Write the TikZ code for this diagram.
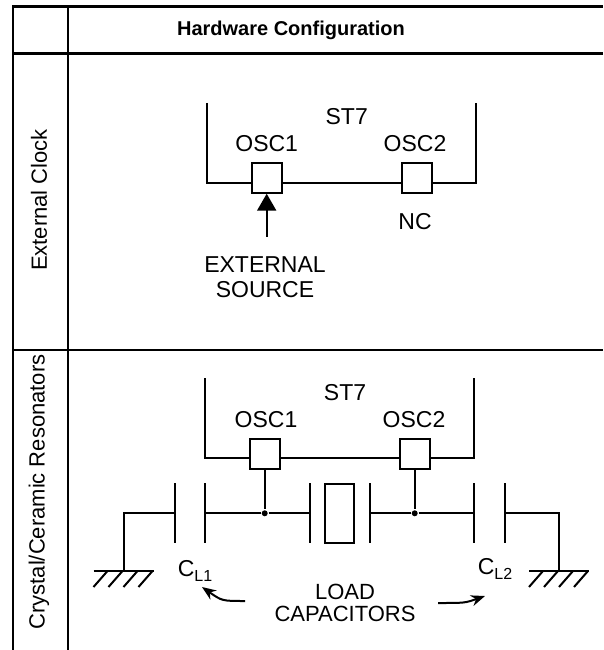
\documentclass[tikz,border=0pt]{standalone}
\usepackage{fontspec}
\setmainfont{Liberation Sans}
\usetikzlibrary{arrows.meta}
\tikzset{
	pin/.style={draw, fill=white, minimum width=30pt, minimum height=30pt, inner sep=0pt},
	dot/.style={circle, fill, inner sep=0pt, minimum size=6pt},
	grid/.style={line width=2.5pt},
	earth/.pic={
		\draw (-30,0) -- (30,0);
		\foreach \hx in {-16,-1,14,29}
			\draw (\hx,0) -- (\hx-14,16);
	}
}
\newcommand{\subL}[1]{\raisebox{-0.4ex}{\fontsize{16}{16}\selectfont #1}}
\begin{document}
\begin{tikzpicture}[x=1pt,y=-1pt,line width=2pt,font=\fontsize{23}{25}\selectfont]
	\useasboundingbox (0,0) rectangle (603,650);
	\draw[grid] (13,650) -- (13,6.5) -- (603,6.5);
	\draw[grid] (68,6.5) -- (68,650);
	\draw[grid] (13,53.5) -- (603,53.5);
	\draw[grid] (13,350) -- (603,350);
	\node[font=\fontsize{20}{22}\selectfont\bfseries] (head) at (291,30) {Hardware Configuration};
	\node[rotate=90,font=\fontsize{22}{24}\selectfont] (rowa) at (39,200) {External Clock};
	\node[rotate=90,font=\fontsize{22}{24}\selectfont] (rowb) at (39,492) {Crystal/Ceramic Resonators};
	% external clock
	\coordinate (tla) at (206.7,103);
	\coordinate (bla) at (206.7,182.7);
	\coordinate (tra) at (476,103);
	\coordinate (bra) at (476,182.7);
	\node[pin] (osca) at (266.7,177.7) {};
	\node[pin] (oscb) at (417.2,177.7) {};
	\draw (tla) -- (bla) -- (bla -| osca.west);
	\draw (bla -| osca.east) -- (bla -| oscb.west);
	\draw (bla -| oscb.east) -- (bra) -- (tra);
	\node (chipa) at (346.7,116.7) {ST7};
	\node (lblA) at (266.7,143.3) {OSC1};
	\node (lblB) at (415,143.3) {OSC2};
	\node (nc) at (415,221.7) {NC};
	\coordinate (srcend) at (266.7,236.7);
	\draw[-{Triangle[width=19pt,length=17pt]}] (srcend) -- (osca.south);
	\node[align=center] (src) at (265,277) {EXTERNAL\\SOURCE};
	% crystal / ceramic
	\coordinate (tlc) at (205,378);
	\coordinate (blc) at (205,458.3);
	\coordinate (trc) at (474.3,378);
	\coordinate (brc) at (474.3,458.3);
	\node[pin] (oscc) at (264.7,453.7) {};
	\node[pin] (oscd) at (414.7,453.7) {};
	\draw (tlc) -- (blc) -- (blc -| oscc.west);
	\draw (blc -| oscc.east) -- (blc -| oscd.west);
	\draw (blc -| oscd.east) -- (brc) -- (trc);
	\node (chipb) at (345,393) {ST7};
	\node (lblC) at (266,420) {OSC1};
	\node (lblD) at (414,420) {OSC2};
	\foreach \px/\pn in {175/pa,205/pb,310/pc,370/pd,474.3/pe,505/pf}{
		\coordinate (\pn) at (\px,513.3);
		\draw (\px,483.3) -- (\px,543.3);
	}
	\node[draw, minimum width=29pt, minimum height=59pt, inner sep=0pt] (xtal) at (339.7,513.5) {};
	\node[dot] (ja) at (264.7,513.3) {};
	\node[dot] (jb) at (414.7,513.3) {};
	\draw (pb) -- (ja) -- (pc);
	\draw (pd) -- (jb) -- (pe);
	\draw (oscc.south) -- (ja);
	\draw (oscd.south) -- (jb);
	\coordinate (gnda) at (123.5,571);
	\coordinate (gndb) at (559,571);
	\draw (pa) -| (gnda);
	\draw (pf) -| (gndb);
	\pic at (gnda) {earth};
	\pic at (gndb) {earth};
	\node (cla) at (195,571) {C\subL{L1}};
	\node (clb) at (495,569) {C\subL{L2}};
	\node[align=center,font=\fontsize{22}{21.5}\selectfont] (load) at (345,603) {LOAD\\CAPACITORS};
	\coordinate (la) at (245,601);
	\coordinate (lb) at (202,587);
	\coordinate (ra) at (438,603);
	\coordinate (rb) at (485,596);
	\draw[-{Stealth[length=14pt,width=11pt]}] (la) .. controls (222,601) .. (lb);
	\draw[-{Stealth[length=14pt,width=11pt]}] (ra) .. controls (465,603) .. (rb);
\end{tikzpicture}
\end{document}
